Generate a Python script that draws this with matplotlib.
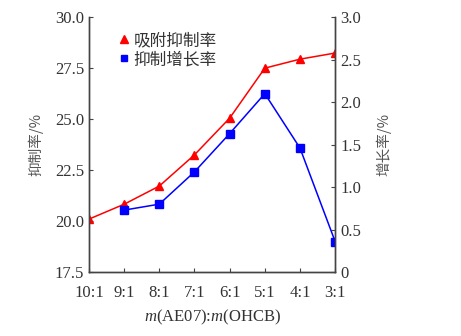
import matplotlib
matplotlib.use('Agg')
import matplotlib.pyplot as plt

ratios = ['10:1', '9:1', '8:1', '7:1', '6:1', '5:1', '4:1', '3:1']
# adsorption inhibition rate, %
inhib = [20.1, 20.83, 21.72, 23.25, 25.05, 27.5, 27.94, 28.24]
# inhibition growth rate, % (no value at 10:1)
growth = [None, 0.73, 0.80, 1.18, 1.63, 2.10, 1.46, 0.36]

plt.rcParams['font.family'] = ['Liberation Serif', 'Noto Sans CJK SC']
plt.rcParams['mathtext.fontset'] = 'custom'
plt.rcParams['mathtext.it'] = 'Liberation Serif:italic'
plt.rcParams['mathtext.rm'] = 'Liberation Serif'

TXT = '#333333'
cjk = ['Noto Sans CJK SC', 'DejaVu Sans']

fig = plt.figure(figsize=(4.61, 3.36), dpi=100)
ax = fig.add_axes([0.193, 0.19, 0.534, 0.759])
ax2 = ax.twinx()

x = list(range(len(ratios)))
l1, = ax.plot(x, inhib, color='red', marker='^', markersize=6, lw=1.1,
              label='吸附抑制率')
gx = [i for i, v in zip(x, growth) if v is not None]
gy = [v for v in growth if v is not None]
l2, = ax2.plot(gx, gy, color='blue', marker='s', markersize=5.5, lw=1.1,
               label='抑制增长率')

ax.set_xlim(0, len(ratios) - 1)
ax.set_ylim(17.5, 30.0)
ax.set_yticks([17.5, 20.0, 22.5, 25.0, 27.5, 30.0])
ax.set_yticklabels(['17.5', '20.0', '22.5', '25.0', '27.5', '30.0'])
ax2.set_ylim(0, 3.0)
ax2.set_yticks([0, 0.5, 1.0, 1.5, 2.0, 2.5, 3.0])
ax2.set_yticklabels(['0', '0.5', '1.0', '1.5', '2.0', '2.5', '3.0'])
ax.set_xticks(x)
ax.set_xticklabels(ratios)

for a in (ax, ax2):
    a.spines['top'].set_visible(False)
    for s in a.spines.values():
        s.set_color('#444444')
        s.set_linewidth(1.0)
    a.tick_params(direction='in', length=3, width=0.8, colors='#444444',
                  labelcolor=TXT, labelsize=12)
ax.tick_params(axis='x', pad=9)

ax.set_ylabel('抑制率/%', family=cjk, fontsize=10.5, color='#555555', labelpad=8)
ax2.set_ylabel('增长率/%', family=cjk, fontsize=10.5, color='#555555', labelpad=11)
ax.set_xlabel('$m$(AE07):$m$(OHCB)', fontsize=12, color=TXT, labelpad=5)

leg = ax.legend(handles=[l1, l2], loc='upper left', bbox_to_anchor=(0.085, 0.98),
                frameon=False, prop={'family': cjk, 'size': 12},
                handlelength=0.5, handletextpad=0.3, labelspacing=0.12,
                borderaxespad=0.2, markerscale=0.85)
for h in leg.legend_handles:
    h.set_linestyle('none')
for t in leg.get_texts():
    t.set_color(TXT)

fig.savefig('out.png', dpi=100)
